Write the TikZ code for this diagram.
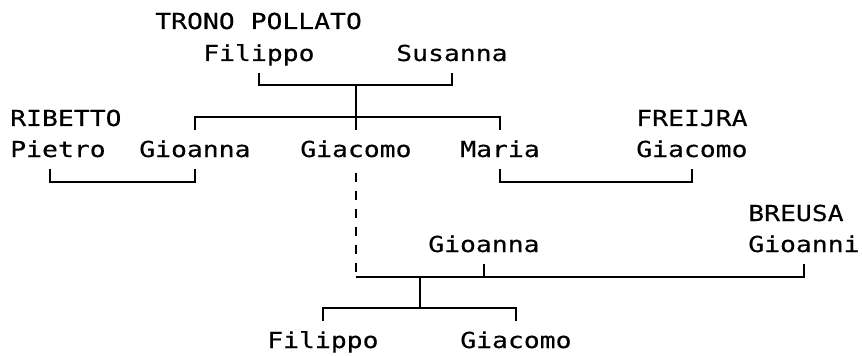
\documentclass[tikz,border=0pt]{standalone}
\usepackage{fontspec}
\newfontfamily\treefont[FakeStretch=1.2,FakeBold=0.3]{DejaVu Sans Mono}

\begin{document}
\begin{tikzpicture}
[nameDecorate/.style={anchor=base west,inner xsep=0pt,inner ysep=8pt,
    text height=12.25pt,text depth=0.6pt,
    font=\treefont\fontsize{16.5}{20}\selectfont},
  lineDecorate/.style={-,line width=1.5pt},
  dashDecorate/.style={lineDecorate,dash pattern=on 6.75pt off 6.75pt},
  x=0.75pt,y=-0.75pt]
\useasboundingbox (0,0) rectangle (862,356);
%% names
\foreach \nodename/\x/\y/\txt in {
  tronoPollato/155/29/TRONO POLLATO,
  filippoA/203/61/Filippo,
  susanna/396/61/Susanna,
  ribetto/10/126/RIBETTO,
  pietro/10/157/Pietro,
  gioannaA/139/157/Gioanna,
  giacomoA/300/157/Giacomo,
  maria/460/157/Maria,
  freijra/636/126/FREIJRA,
  giacomoB/636/157/Giacomo,
  breusa/748/221/BREUSA,
  gioanni/748/252/Gioanni,
  gioannaB/428/252/Gioanna,
  filippoB/267/348/Filippo,
  giacomoC/460/348/Giacomo}
{
  \node (\nodename) at (\x,\y) [nameDecorate] {\txt};
}
%% rows of the lines
\coordinate (rowA) at (0,85);
\coordinate (rowB) at (0,117);
\coordinate (rowC) at (0,182);
\coordinate (rowD) at (0,277);
\coordinate (rowE) at (0,308);
\coordinate (parentsA) at (giacomoA.north |- rowA);
\coordinate (kidsA) at (giacomoA.north |- rowB);
\coordinate (parentsB) at (giacomoA.south |- rowD);
\coordinate (dropB) at (420,277);
\coordinate (kidsB) at (420,308);
%% couples and children
\draw[lineDecorate] (filippoA.south) |- (parentsA) -| (susanna.south);
\draw[lineDecorate] (parentsA) -- (giacomoA.north);
\draw[lineDecorate] (gioannaA.north) |- (kidsA) -| (maria.north);
\draw[lineDecorate] ([xshift=-6pt]pietro.south) |- (gioannaA.south |- rowC) -- (gioannaA.south);
\draw[lineDecorate] (maria.south) |- (giacomoB.south |- rowC) -- (giacomoB.south);
\draw[dashDecorate] ([yshift=-3pt]giacomoA.south) -- (parentsB);
\draw[lineDecorate] (parentsB) -| (gioanni.south);
\draw[lineDecorate] (gioannaB.south) -- (gioannaB.south |- rowD);
\draw[lineDecorate] (dropB) -- (kidsB);
\draw[lineDecorate] (filippoB.north) |- (kidsB) -| (giacomoC.north);
\end{tikzpicture}
\end{document}
